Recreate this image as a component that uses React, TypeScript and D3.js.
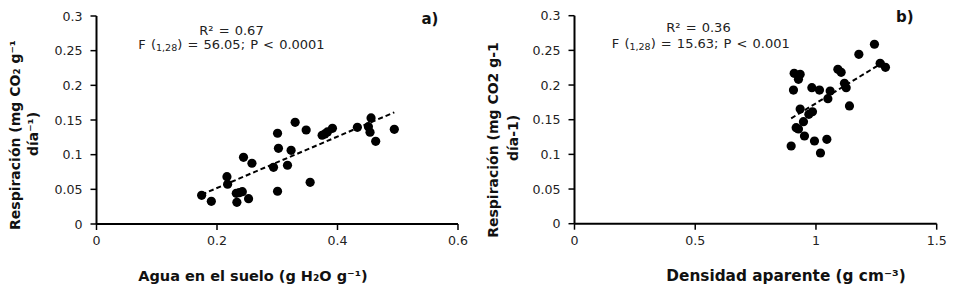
import React, { useEffect } from "react";
import * as d3 from "d3";

// ---- Data ----
const waterX = [0.1745, 0.1906, 0.2165, 0.2176, 0.232, 0.237, 0.242, 0.233, 0.244, 0.2524, 0.258, 0.2938, 0.3005, 0.302, 0.3005, 0.317, 0.323, 0.3297, 0.348, 0.3546, 0.3745, 0.379, 0.3833, 0.3916, 0.433, 0.4513, 0.4557, 0.454, 0.4634, 0.4943];
const respA = [0.0414, 0.0327, 0.0683, 0.0573, 0.0443, 0.0452, 0.0466, 0.0313, 0.0962, 0.0365, 0.0876, 0.0818, 0.1309, 0.1092, 0.0472, 0.0847, 0.1063, 0.1467, 0.1356, 0.0601, 0.128, 0.1299, 0.1328, 0.138, 0.1395, 0.1404, 0.153, 0.1323, 0.1193, 0.1366];

const densityX = [1.2422, 1.1776, 1.2658, 1.2878, 1.0907, 1.1043, 1.118, 1.1251, 1.1387, 1.0588, 1.0493, 0.983, 1.0145, 0.9097, 0.9346, 0.9275, 0.9068, 0.9346, 0.9706, 0.9855, 0.9482, 0.918, 0.9275, 0.9524, 0.9938, 1.0451, 0.8973, 1.0186];
const respB = [0.2588, 0.2443, 0.2314, 0.2256, 0.2227, 0.2184, 0.2025, 0.1962, 0.1698, 0.1914, 0.1803, 0.1962, 0.1928, 0.2169, 0.2155, 0.2083, 0.1928, 0.1654, 0.1578, 0.1615, 0.1471, 0.1385, 0.1366, 0.1265, 0.1193, 0.1217, 0.1121, 0.102];

const trendA = { slope: 0.371, intercept: -0.0223 };
const trendB = { slope: 0.212, intercept: -0.0383 };

const yTicks = [0, 0.05, 0.1, 0.15, 0.2, 0.25, 0.3];
const yTickLabels = ["0", "0.05", "0.1", "0.15", "0.2", "0.25", "0.3"];
const xTicksA = [0, 0.2, 0.4, 0.6];
const xTickLabelsA = ["0", "0.2", "0.4", "0.6"];
const xTicksB = [0, 0.5, 1, 1.5];
const xTickLabelsB = ["0", "0.5", "1", "1.5"];

const FONT = "'DejaVu Sans', Verdana, sans-serif";

type PanelProps = {
  xs: number[];
  ys: number[];
  xDomain: [number, number];
  xRange: [number, number];
  yRange: [number, number];
  xTicks: number[];
  xTickLabels: string[];
  trend: { slope: number; intercept: number };
};

function Panel({ xs, ys, xDomain, xRange, yRange, xTicks, xTickLabels, trend }: PanelProps) {
  const x = d3.scaleLinear().domain(xDomain).range(xRange);
  const y = d3.scaleLinear().domain([0, 0.3]).range(yRange);
  const [x0, x1] = d3.extent(xs) as [number, number];
  const line = d3
    .line<number>()
    .x((d) => x(d))
    .y((d) => y(trend.slope * d + trend.intercept));
  return (
    <g>
      <path d={line([x0, x1]) || ""} fill="none" stroke="#000" strokeWidth={2} strokeDasharray="5,3" />
      {xs.map((v, i) => (
        <circle key={i} cx={x(v)} cy={y(ys[i])} r={4.6} fill="#000" />
      ))}
      <line x1={xRange[0]} x2={xRange[0]} y1={y(0)} y2={y(0.3)} stroke="#000" strokeWidth={2} />
      {yTicks.map((t, i) => (
        <g key={i}>
          <line x1={xRange[0] - 6} x2={xRange[0]} y1={y(t)} y2={y(t)} stroke="#000" strokeWidth={1.5} />
          <text x={xRange[0] - 14} y={y(t) + 4.5} textAnchor="end" fontSize={12.6} fontFamily={FONT} fill="#222">
            {yTickLabels[i]}
          </text>
        </g>
      ))}
      <line x1={x(xDomain[0])} x2={x(xDomain[1])} y1={y(0)} y2={y(0)} stroke="#000" strokeWidth={2} />
      {xTicks.map((t, i) => (
        <g key={i}>
          <line x1={x(t)} x2={x(t)} y1={y(0)} y2={y(0) + 6} stroke="#000" strokeWidth={1.5} />
          <text x={x(t)} y={y(0) + 21} textAnchor="middle" fontSize={12.6} fontFamily={FONT} fill="#222">
            {xTickLabels[i]}
          </text>
        </g>
      ))}
    </g>
  );
}

export default function App() {
  useEffect(() => {
    document.body.style.margin = "0";
  }, []);
  return (
    <svg width={961} height={290} style={{ display: "block", background: "#fff" }}>
      <rect width={961} height={290} fill="#fff" />
      <Panel
        xs={waterX}
        ys={respA}
        xDomain={[0, 0.6]}
        xRange={[96.5, 458]}
        yRange={[224, 16]}
        xTicks={xTicksA}
        xTickLabels={xTickLabelsA}
        trend={trendA}
      />
      <Panel
        xs={densityX}
        ys={respB}
        xDomain={[0, 1.5]}
        xRange={[574.5, 936.7]}
        yRange={[223.7, 15.7]}
        xTicks={xTicksB}
        xTickLabels={xTickLabelsB}
        trend={trendB}
      />

      <g fontFamily={FONT} fontSize={13} fill="#222" textAnchor="middle" wordSpacing={1}>
        <text x={231.5} y={35}>R² = 0.67</text>
        <text x={231.5} y={49}>
          F (<tspan fontSize={9.5} dy={2}>1,28</tspan>
          <tspan dy={-2}>) = 56.05; P &lt; 0.0001</tspan>
        </text>
        <text x={698.5} y={32}>R² = 0.36</text>
        <text x={700.8} y={48}>
          F (<tspan fontSize={9.5} dy={2}>1,28</tspan>
          <tspan dy={-2}>) = 15.63; P &lt; 0.001</tspan>
        </text>
      </g>

      <g fontFamily={FONT} fontSize={15} fontWeight="bold" fill="#111">
        <text x={421.5} y={24}>a)</text>
        <text x={896} y={22}>b)</text>
      </g>

      <g fontFamily={FONT} fontWeight="bold" fill="#111" textAnchor="middle">
        <text x={253} y={281} fontSize={14.5}>Agua en el suelo (g H₂O g⁻¹)</text>
        <text x={786} y={281} fontSize={15.3}>Densidad aparente (g cm⁻³)</text>
      </g>

      <g fontFamily={FONT} fontSize={14} fontWeight="bold" fill="#111" textAnchor="middle">
        <text transform="translate(20,135) rotate(-90)">Respiración (mg CO₂ g⁻¹</text>
        <text transform="translate(38,134) rotate(-90)">día⁻¹)</text>
        <text transform="translate(498,140) rotate(-90)">Respiración (mg CO2 g-1</text>
        <text transform="translate(518,138) rotate(-90)">día-1)</text>
      </g>
    </svg>
  );
}
